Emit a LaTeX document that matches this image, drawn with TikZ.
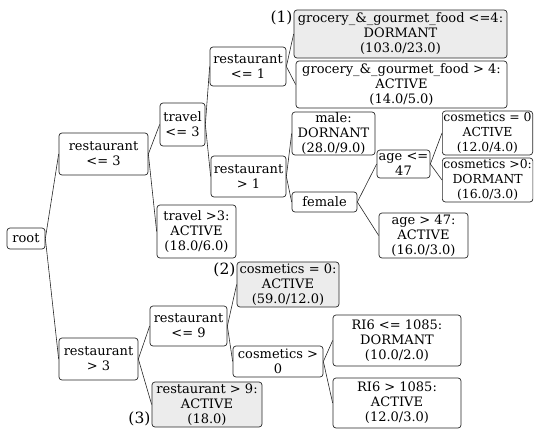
\documentclass[tikz,border=0pt]{standalone}
\usepackage{fontspec}
\setmainfont{DejaVu Serif}

\tikzset{
  noeud/.style={draw=black!85, line width=0.7pt, rounded corners=3pt, align=center,
    inner sep=0.5pt, font=\fontsize{13}{15}\selectfont},
  feuille/.style={noeud, fill=gray!15},
  bord/.style={noeud, anchor=west, inner xsep=1pt, font=\fontsize{12.4}{15}\selectfont},
  branche/.style={black!85, line width=0.6pt},
  repere/.style={inner sep=1pt, font=\fontsize{15.5}{17}\selectfont}
}

\begin{document}
\begin{tikzpicture}[x=1pt, y=-1pt]

  \useasboundingbox (0,0) rectangle (534,429);

  % ==========================================
  % RACINE ET PREMIER NIVEAU
  % ==========================================
  \node[noeud, minimum width=38pt, minimum height=21pt] (root) at (26,238.5) {root};
  \node[noeud, minimum width=89pt, minimum height=42pt] (rest3le) at (103.5,154) {restaurant\\<= 3};
  \node[noeud, minimum width=79pt, minimum height=42pt] (rest3gt) at (98.5,359) {restaurant\\> 3};

  % ==========================================
  % BRANCHE HAUTE : restaurant <= 3
  % ==========================================
  \node[noeud, minimum width=45pt, minimum height=43pt] (trav3le) at (182.5,124.5) {travel\\<= 3};
  \node[noeud, minimum width=79pt, minimum height=53pt] (trav3gt) at (196.5,231.5) {travel >3:\\ACTIVE\\(18.0/6.0)};

  \node[noeud, minimum width=76pt, minimum height=39pt] (rest1le) at (248,66.5) {restaurant\\<= 1};
  \node[noeud, minimum width=75pt, minimum height=41pt] (rest1gt) at (248.5,176.5) {restaurant\\> 1};

  % Feuilles de restaurant <= 1
  \node[feuille, minimum width=213pt, minimum height=48pt] (groc4le) at (400.5,34) {grocery\_\&\_gourmet\_food <=4:\\DORMANT\\(103.0/23.0)};
  \node[noeud, minimum width=211pt, minimum height=47pt] (groc4gt) at (401.5,84.5) {grocery\_\&\_gourmet\_food > 4:\\ACTIVE\\(14.0/5.0)};
  \node[repere, anchor=north east] (lab1) at (groc4le.north west) {(1)};

  % Sous-arbre de restaurant > 1
  \node[noeud, minimum width=83pt, minimum height=43pt] (male) at (333.5,133.5) {male:\\DORNANT\\(28.0/9.0)};
  \node[noeud, minimum width=65pt, minimum height=20pt] (female) at (324.5,202) {female};
  \node[noeud, minimum width=53pt, minimum height=28pt] (age47le) at (403.5,164) {age <=\\47};
  \node[noeud, minimum width=89pt, minimum height=45pt] (age47gt) at (423.5,235.5) {age > 47:\\ACTIVE\\(16.0/3.0)};
  % (ces deux feuilles touchent le bord droit, comme sur l'original)
  \node[bord, minimum height=44pt] (cosm0a) at (442,133) {cosmetics = 0\\ACTIVE\\(12.0/4.0)};
  \node[bord, minimum height=44pt] (cosm0b) at (442,180) {cosmetics >0:\\DORMANT\\(16.0/3.0)};

  % ==========================================
  % BRANCHE BASSE : restaurant > 3
  % ==========================================
  \node[noeud, minimum width=77pt, minimum height=40pt] (rest9le) at (188.5,326) {restaurant\\<= 9};
  \node[feuille, minimum width=110pt, minimum height=45pt] (rest9gt) at (207,404.5) {restaurant > 9:\\ACTIVE\\(18.0)};
  \node[repere, anchor=south east] (lab3) at (rest9gt.south west) {(3)};

  \node[feuille, minimum width=102pt, minimum height=45pt] (cosm0c) at (288,284.5) {cosmetics = 0:\\ACTIVE\\(59.0/12.0)};
  \node[repere, anchor=north east] (lab2) at (cosm0c.north west) {(2)};
  \node[noeud, minimum width=90pt, minimum height=31pt, inner ysep=0pt] (cosm0gt) at (278,361.5) {cosmetics >\\0};

  \node[noeud, minimum width=128pt, minimum height=51pt] (ri6le) at (397,340.5) {RI6 <= 1085:\\DORMANT\\(10.0/2.0)};
  \node[noeud, minimum width=128pt, minimum height=50pt] (ri6gt) at (397,403) {RI6 > 1085:\\ACTIVE\\(12.0/3.0)};

  % ==========================================
  % LIENS PARENT -> ENFANT
  % ==========================================
  \foreach \parent/\enfant in {root/rest3le, root/rest3gt, rest3le/trav3le, rest3le/trav3gt,
      trav3le/rest1le, trav3le/rest1gt, rest1le/groc4le, rest1le/groc4gt,
      rest1gt/male, rest1gt/female, female/age47le, female/age47gt,
      age47le/cosm0a, age47le/cosm0b, rest3gt/rest9le, rest3gt/rest9gt,
      rest9le/cosm0c, rest9le/cosm0gt, cosm0gt/ri6le, cosm0gt/ri6gt}
    \draw[branche] (\parent.east) -- (\enfant.west);

\end{tikzpicture}
\end{document}
